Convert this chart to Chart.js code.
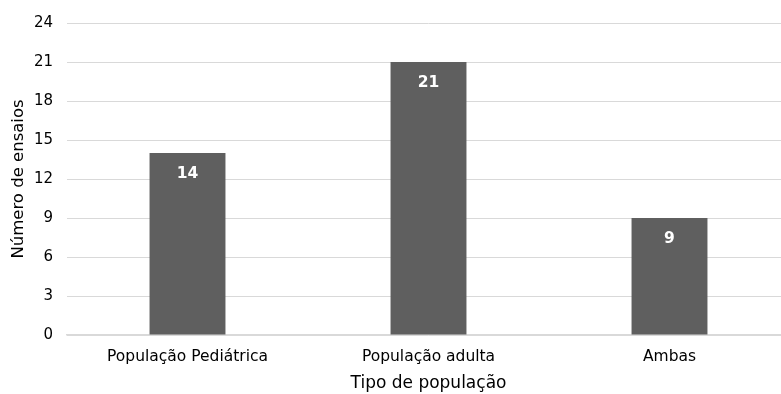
<!DOCTYPE html>
<html>
<head>
<meta charset="utf-8">
<script src="https://cdn.jsdelivr.net/npm/chart.js@4"></script>
<style>
  html, body { margin: 0; padding: 0; background: #fff; overflow: hidden; }
  #wrap { width: 790px; height: 394px; }
</style>
</head>
<body>
<div id="wrap"><canvas id="chart" width="790" height="394"></canvas></div>
<script>
const categories = ['População Pediátrica', 'População adulta', 'Ambas'];
const trialCounts = [14, 21, 9];
const yTicks = [0, 3, 6, 9, 12, 15, 18, 21, 24];

const FONT = '"DejaVu Sans", sans-serif';

// Writes each bar's value in white just inside the top of the bar
const valueLabels = {
  id: 'valueLabels',
  afterDatasetsDraw(chart) {
    const ctx = chart.ctx;
    const meta = chart.getDatasetMeta(0);
    ctx.save();
    ctx.fillStyle = '#ffffff';
    ctx.font = 'bold 15.5px ' + FONT;
    ctx.textAlign = 'center';
    ctx.textBaseline = 'middle';
    meta.data.forEach((bar, i) => {
      ctx.fillText(String(chart.data.datasets[0].data[i]), bar.x, bar.y + 21);
    });
    ctx.restore();
  }
};

new Chart(document.getElementById('chart'), {
  type: 'bar',
  data: {
    labels: categories,
    datasets: [{
      data: trialCounts,
      backgroundColor: '#5f5f5f',
      borderWidth: 0,
      barPercentage: 0.315,
      categoryPercentage: 1
    }]
  },
  options: {
    responsive: false,
    animation: false,
    layout: { padding: { top: 14, left: 0, right: 0, bottom: 0 } },
    plugins: { legend: { display: false }, tooltip: { enabled: false } },
    scales: {
      x: {
        afterFit(axis) { axis.height = 59; },
        grid: { display: false },
        border: { display: true, color: '#d9d9d9', width: 1.5 },
        ticks: { color: '#000', font: { family: FONT, size: 15.5 }, padding: 5 },
        title: { display: true, text: 'Tipo de população', color: '#000', font: { family: FONT, size: 17 }, padding: { top: 0, bottom: 0 } }
      },
      y: {
        min: 0, max: 24,
        afterBuildTicks(axis) { axis.ticks = yTicks.map(v => ({ value: v })); },
        afterFit(axis) { axis.width = 67; },
        grid: { color: '#d9d9d9', drawTicks: false },
        border: { display: false },
        ticks: { color: '#000', font: { family: FONT, size: 15 }, padding: 14 },
        title: { display: true, text: 'Número de ensaios', color: '#000', font: { family: FONT, size: 16.5 }, padding: { top: 9, bottom: 0 } }
      }
    }
  },
  plugins: [valueLabels]
});
</script>
</body>
</html>
